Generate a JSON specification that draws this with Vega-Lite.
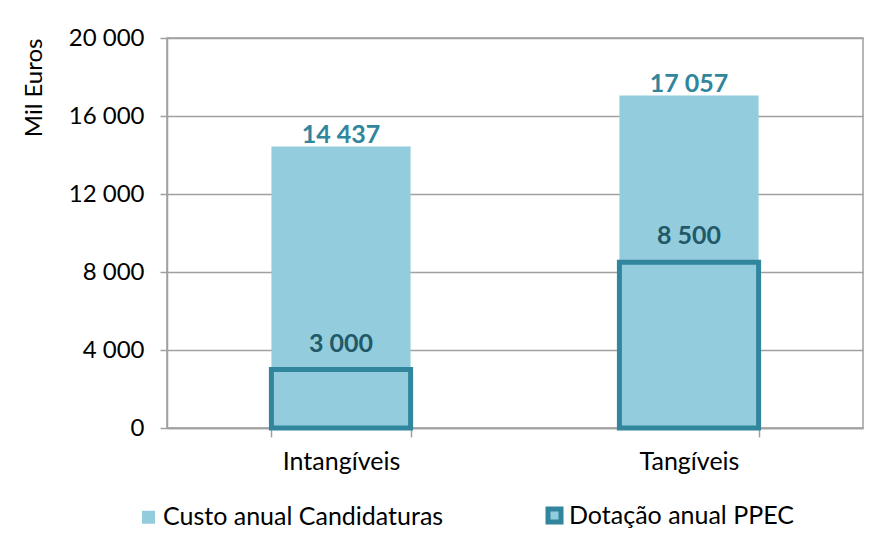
{
  "$schema": "https://vega.github.io/schema/vega-lite/v6.json",
  "autosize": "none",
  "width": 696,
  "height": 390,
  "padding": {"left": 167, "top": 38, "right": 31, "bottom": 105},
  "background": "white",
  "config": {
    "font": "Lato",
    "locale": {"number": {"decimal": ",", "thousands": " ", "grouping": [3], "currency": ["", " €"]}},
    "view": {"stroke": "#a0a0a0", "strokeWidth": 1.5},
    "axis": {"domainColor": "#a0a0a0", "tickColor": "#a0a0a0", "gridColor": "#a0a0a0", "domainWidth": 1.5, "tickWidth": 1.5, "gridWidth": 1.5, "labelColor": "#000000", "titleColor": "#000000", "labelFont": "Lato", "titleFont": "Lato"}
  },
  "data": {
    "values": [
      {"categoria": "Intangíveis", "serie": "Custo anual Candidaturas", "valor": 14437},
      {"categoria": "Tangíveis", "serie": "Custo anual Candidaturas", "valor": 17057},
      {"categoria": "Intangíveis", "serie": "Dotação anual PPEC", "valor": 3000},
      {"categoria": "Tangíveis", "serie": "Dotação anual PPEC", "valor": 8500}
    ]
  },
  "encoding": {
    "x": {
      "field": "categoria", "type": "nominal", "sort": null,
      "scale": {"paddingInner": 0.6, "paddingOuter": 0.3},
      "axis": {"title": null, "labelAngle": 0, "labelFontSize": 25, "labelPadding": 12, "tickSize": 9, "tickBand": "extent", "grid": false}
    },
    "y": {
      "field": "valor", "type": "quantitative",
      "scale": {"domain": [0, 20000], "nice": false},
      "axis": {"title": "Mil Euros", "values": [0, 4000, 8000, 12000, 16000, 20000], "format": ",.0f", "labelFontSize": 24, "labelPadding": 16, "tickSize": 7, "titleFontSize": 24, "titleFontWeight": "normal", "titleAnchor": "end", "titlePadding": 22, "grid": true}
    }
  },
  "layer": [
    {
      "mark": {"type": "bar"},
      "encoding": {
        "fill": {
          "field": "serie", "type": "nominal",
          "scale": {"domain": ["Custo anual Candidaturas", "Dotação anual PPEC"], "range": ["#93CDDD", "#93CDDD"]},
          "legend": {"title": null, "orient": "none", "legendX": -31, "legendY": 465, "direction": "horizontal", "columns": 2, "columnPadding": 94, "symbolType": "square", "symbolSize": 169, "symbolStrokeWidth": 6, "labelFontSize": 25, "labelFont": "Lato", "labelColor": "#000000", "labelOffset": 2, "labelLimit": 400}
        },
        "stroke": {
          "field": "serie", "type": "nominal",
          "scale": {"domain": ["Custo anual Candidaturas", "Dotação anual PPEC"], "range": ["#93CDDD", "#31859C"]}
        },
        "strokeWidth": {
          "field": "serie", "type": "nominal",
          "scale": {"domain": ["Custo anual Candidaturas", "Dotação anual PPEC"], "range": [0, 5]},
          "legend": null
        },
        "y": {"field": "valor", "type": "quantitative", "stack": null}
      }
    },
    {
      "transform": [{"filter": "datum.serie === 'Custo anual Candidaturas'"}],
      "mark": {"type": "text", "baseline": "alphabetic", "dy": -3, "fontSize": 25, "fontWeight": "bold", "color": "#31859C"},
      "encoding": {"text": {"field": "valor", "type": "quantitative", "format": ",.0f"}}
    },
    {
      "transform": [{"filter": "datum.serie === 'Dotação anual PPEC'"}],
      "mark": {"type": "text", "baseline": "alphabetic", "dy": -18, "fontSize": 25, "fontWeight": "bold", "color": "#215968"},
      "encoding": {"text": {"field": "valor", "type": "quantitative", "format": ",.0f"}}
    }
  ]
}
